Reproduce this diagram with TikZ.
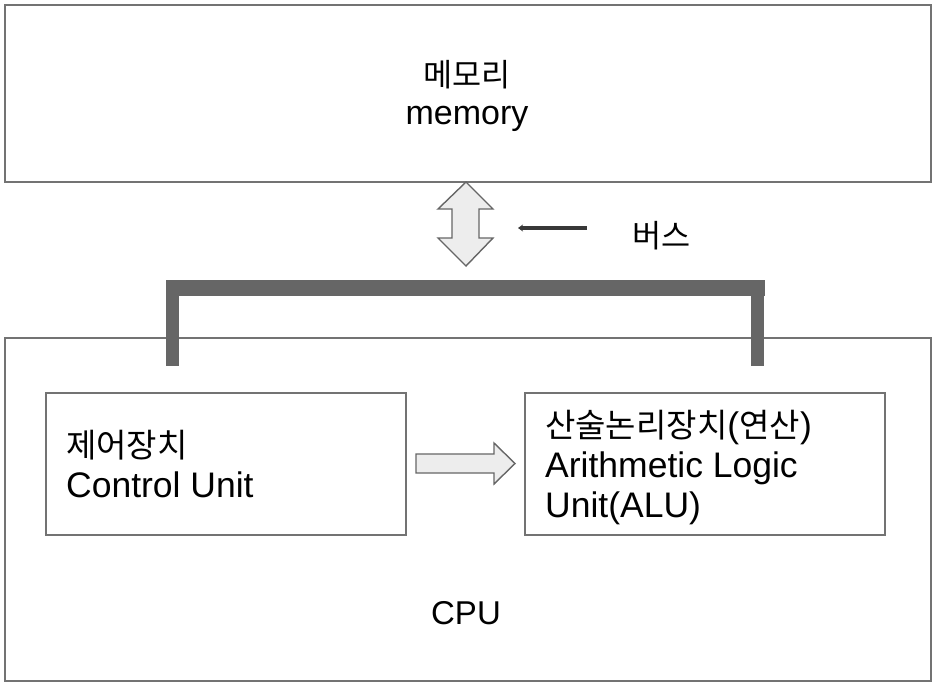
\documentclass[tikz,border=0pt]{standalone}
\usepackage{fontspec}
\setmainfont{Liberation Sans}
\newfontfamily\kr{Noto Sans CJK KR}[Scale=0.93]
\usetikzlibrary{arrows.meta}
\begin{document}
\begin{tikzpicture}[x=1pt,y=-1pt,
  box/.style={draw=black!55,line width=1.3pt},
  bar/.style={fill=black!60,draw=none},
  blockarrow/.style={fill=black!7,draw=black!60,line width=1.4pt,line join=miter},
  lbl/.style={font=\fontsize{34}{40}\selectfont,inner sep=0pt},
  inlbl/.style={font=\fontsize{35.5}{40}\selectfont,inner sep=0pt},
  every node/.style={inner sep=0pt}]
\useasboundingbox (0,0) rectangle (936,686);
% boxes
\draw[box] (5,5) rectangle (931,182);
\draw[box] (5,338) rectangle (931,681);
\draw[box] (46,393) rectangle (406,535);
\draw[box] (525,393) rectangle (885,535);
% memory text
\node[lbl,anchor=base] (memk) at (467,86) {\kr 메모리};
\node[lbl,anchor=base] (meme) at (467,124) {memory};
% CPU
\node[lbl,anchor=base,font=\fontsize{33}{40}\selectfont] (cpu) at (466,624) {CPU};
% control unit
\node[inlbl,anchor=base west] (cuk) at (66,457) {\kr 제어장치};
\node[inlbl,anchor=base west] (cue) at (66,497) {Control Unit};
% ALU
\node[inlbl,anchor=base west] (aluk) at (545,437) {{\kr 산술논리장치}({\kr 연산})};
\node[inlbl,anchor=base west] (alue) at (545,477) {Arithmetic Logic};
\node[inlbl,anchor=base west] (alue2) at (545,517) {Unit(ALU)};
% bus label
\node[lbl,anchor=base west] (bus) at (632,247) {\kr 버스};
% bus bar
\fill[bar] (166,280) rectangle (765,296);
\fill[bar] (166,296) rectangle (179,366);
\fill[bar] (751,296) rectangle (764,366);
% double arrow
\draw[blockarrow] (466,182) -- (438,209) -- (452,209) -- (452,238) -- (438,238)
  -- (466,266) -- (493,238) -- (479,238) -- (479,209) -- (493,209) -- cycle;
% block arrow CU -> ALU
\draw[blockarrow] (416,454) -- (494,454) -- (494,443) -- (515,463.5) -- (494,484)
  -- (494,473) -- (416,473) -- cycle;
% bus pointer
\coordinate (busA) at (587,228);
\coordinate (busB) at (518,228);
\draw[line width=3.5pt,black!78,-{Stealth[length=5pt,width=7pt]}] (busA) -- (busB);
\end{tikzpicture}
\end{document}
